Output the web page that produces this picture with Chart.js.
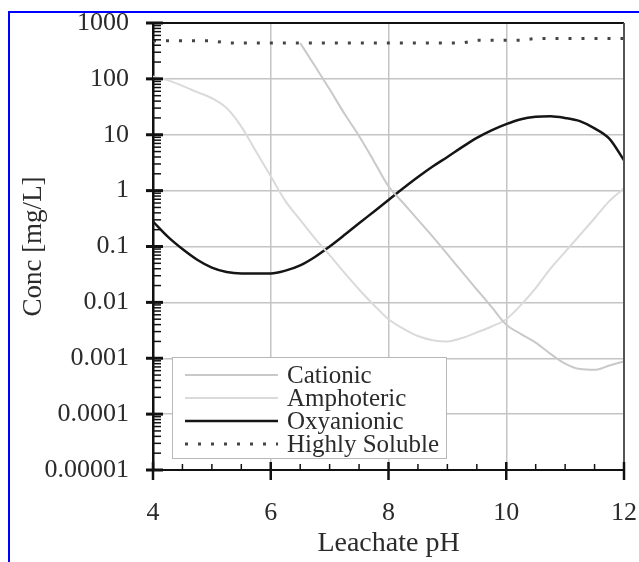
<!DOCTYPE html>
<html lang="en">
<head>
    <meta charset="UTF-8">
    <title>Leachate pH</title>
    <script src="https://cdn.jsdelivr.net/npm/chart.js"></script>
    <style>
        body { margin: 0; background: #fff; }
        #wrap { position: relative; width: 639px; height: 562px; }
        #frame { position: absolute; left: 8px; top: 11px; right: 0; bottom: 0;
                 border-top: 2px solid #0000ff; border-left: 2px solid #0000ff; pointer-events: none; }
    </style>
</head>
<body>
<div id="wrap">
    <canvas id="myChart" width="639" height="562"></canvas>
    <div id="frame"></div>
</div>

<script>
    // dados
    const phValues = [4, 4.25, 4.5, 4.75, 5, 5.25, 5.5, 5.75, 6, 6.25, 6.5, 6.75, 7, 7.25, 7.5, 7.75,
                      8, 8.25, 8.5, 8.75, 9, 9.25, 9.5, 9.75, 10, 10.25, 10.5, 10.75, 11, 11.25, 11.5, 11.75, 12];

    const cationic = [null, null, null, null, null, null, null, null, null, null,
                      440, 170, 65, 24, 9.5, 3.4, 1.2, 0.6, 0.3, 0.15, 0.073, 0.035, 0.017, 0.0083,
                      0.004, 0.0027, 0.0019, 0.0012, 0.0008, 0.00064, 0.00062, 0.00074, 0.00088];

    const amphoteric = [110, 95, 75, 58, 45, 30, 14, 5, 1.8, 0.65, 0.3, 0.14, 0.07, 0.034, 0.017, 0.009,
                        0.005, 0.0034, 0.0025, 0.0021, 0.002, 0.0023, 0.0029, 0.0037, 0.005, 0.009,
                        0.018, 0.04, 0.08, 0.16, 0.32, 0.65, 1.1];

    const oxyanionic = [0.28, 0.15, 0.09, 0.058, 0.042, 0.035, 0.033, 0.033, 0.033, 0.037, 0.046, 0.065,
                        0.1, 0.16, 0.26, 0.42, 0.68, 1.1, 1.75, 2.7, 4.0, 6.0, 8.8, 12, 15.5, 19, 21,
                        21.5, 20, 17.5, 13, 8.5, 3.5];

    const highlySoluble = [480, 480, 480, 480, 480, 440, 440, 440, 440, 440, 440, 440, 440, 440, 440, 440,
                           440, 440, 440, 440, 440, 440, 490, 490, 490, 490, 530, 530, 530, 530, 530, 530, 530];

    const seriesNames = ["Cationic", "Amphoteric", "Oxyanionic", "Highly Soluble"];
    const yTickLabels = ["0.00001", "0.0001", "0.001", "0.01", "0.1", "1", "10", "100", "1000"];
    const xTickLabels = ["4", "6", "8", "10", "12"];

    const serif = "'Liberation Serif', 'Times New Roman', serif";
    const txt = "#2b2b2b";

    function pts(arr) {
        return phValues.map((p, i) => ({ x: p, y: arr[i] }));
    }

    function isDecade(v) {
        const l = Math.log10(v);
        return Math.abs(l - Math.round(l)) < 1e-6;
    }

    // legenda desenhada dentro da area do grafico + marcas dos eixos
    const extras = {
        id: "extras",
        afterDatasetsDraw(chart) {
            const ctx = chart.ctx, a = chart.chartArea;
            const bx = a.left + 19, by = a.top + 334, bw = 274, bh = 101;
            ctx.save();
            ctx.fillStyle = "#fff";
            ctx.fillRect(bx, by, bw, bh);
            ctx.strokeStyle = "#b8b8b8";
            ctx.lineWidth = 1;
            ctx.strokeRect(bx + 0.5, by + 0.5, bw, bh);
            chart.data.datasets.forEach((ds, i) => {
                const ly = by + 18 + i * 23;
                ctx.beginPath();
                ctx.strokeStyle = ds.borderColor;
                ctx.lineWidth = ds.borderWidth;
                ctx.setLineDash(ds.borderDash || []);
                ctx.moveTo(bx + 13, ly);
                ctx.lineTo(bx + 106, ly);
                ctx.stroke();
                ctx.setLineDash([]);
                ctx.fillStyle = txt;
                ctx.font = "25px " + serif;
                ctx.textBaseline = "alphabetic";
                ctx.fillText(ds.label, bx + 115, ly + 8);
            });
            ctx.restore();
        },
        afterDraw(chart) {
            const ctx = chart.ctx, a = chart.chartArea;
            const xs = chart.scales.x, ys = chart.scales.y;
            ctx.save();
            // moldura superior e direita
            ctx.strokeStyle = "#111";
            ctx.lineWidth = 2;
            ctx.beginPath();
            ctx.moveTo(a.left, a.top); ctx.lineTo(a.right, a.top);
            ctx.stroke();
            ctx.strokeStyle = "#555";
            ctx.beginPath();
            ctx.moveTo(a.right, a.top); ctx.lineTo(a.right, a.bottom);
            ctx.stroke();
            // marcas do eixo y
            ctx.strokeStyle = "#111";
            for (let e = -5; e <= 3; e++) {
                const y = ys.getPixelForValue(Math.pow(10, e));
                ctx.lineWidth = 3;
                ctx.beginPath(); ctx.moveTo(a.left - 7, y); ctx.lineTo(a.left + 10, y); ctx.stroke();
                if (e < 3) {
                    ctx.lineWidth = 1.5;
                    for (let m = 2; m <= 9; m++) {
                        const ym = ys.getPixelForValue(m * Math.pow(10, e));
                        ctx.beginPath(); ctx.moveTo(a.left, ym); ctx.lineTo(a.left + 8, ym); ctx.stroke();
                    }
                }
            }
            // marcas do eixo x
            for (let p = 4; p <= 12; p += 0.5) {
                const x = xs.getPixelForValue(p);
                const major = p % 2 === 0;
                ctx.lineWidth = major ? 2.5 : 1.5;
                ctx.beginPath();
                ctx.moveTo(x, a.bottom + (major ? 10 : 0));
                ctx.lineTo(x, a.bottom - (major ? 8 : 6));
                ctx.stroke();
            }
            ctx.restore();
        }
    };

    const config = {
        type: "line",
        data: {
            datasets: [
                {
                    label: seriesNames[0],
                    data: pts(cationic),
                    borderColor: "#c9c9c9",
                    borderWidth: 2,
                    cubicInterpolationMode: "monotone"
                },
                {
                    label: seriesNames[1],
                    data: pts(amphoteric),
                    borderColor: "#dadada",
                    borderWidth: 2,
                    cubicInterpolationMode: "monotone"
                },
                {
                    label: seriesNames[2],
                    data: pts(oxyanionic),
                    borderColor: "#151515",
                    borderWidth: 2.5,
                    cubicInterpolationMode: "monotone"
                },
                {
                    label: seriesNames[3],
                    data: pts(highlySoluble),
                    borderColor: "#444",
                    borderWidth: 3,
                    borderDash: [3, 10],
                    tension: 0
                }
            ]
        },
        options: {
            responsive: false,
            animation: false,
            spanGaps: false,
            elements: { point: { radius: 0 } },
            layout: { padding: { left: 18, right: 15, top: 23, bottom: 2 } },
            plugins: {
                legend: { display: false },
                tooltip: { enabled: false }
            },
            scales: {
                x: {
                    type: "linear",
                    min: 4,
                    max: 12,
                    afterFit(s) { s.height = 90; },
                    ticks: {
                        stepSize: 2,
                        padding: 0,
                        color: txt,
                        font: { family: serif, size: 26 },
                        callback: (v) => xTickLabels[(v - 4) / 2]
                    },
                    grid: {
                        color: "#c4c4c4",
                        lineWidth: 1.5,
                        drawTicks: true,
                        tickLength: 28,
                        tickColor: "rgba(0,0,0,0)"
                    },
                    border: { display: true, color: "#111", width: 2 },
                    title: {
                        display: true,
                        text: "Leachate pH",
                        color: txt,
                        font: { family: serif, size: 28 },
                        padding: { top: 0, bottom: 0 }
                    }
                },
                y: {
                    type: "logarithmic",
                    min: 0.00001,
                    max: 1000,
                    afterFit(s) { s.width = 135; },
                    ticks: {
                        autoSkip: false,
                        padding: 0,
                        color: txt,
                        font: { family: serif, size: 26 },
                        callback: (v) => isDecade(v) ? yTickLabels[Math.round(Math.log10(v)) + 5] : ""
                    },
                    grid: {
                        drawTicks: true,
                        tickLength: 24,
                        tickColor: "rgba(0,0,0,0)",
                        lineWidth: 1.5,
                        color: (c) => (c.tick && isDecade(c.tick.value)) ? "#c4c4c4" : "rgba(0,0,0,0)"
                    },
                    border: { display: true, color: "#111", width: 2.5 },
                    title: {
                        display: true,
                        text: "Conc [mg/L]",
                        color: txt,
                        font: { family: serif, size: 27 },
                        padding: { top: 0, bottom: 0 }
                    }
                }
            }
        },
        plugins: [extras]
    };

    const myChart = new Chart(document.getElementById("myChart").getContext("2d"), config);
</script>
</body>
</html>
